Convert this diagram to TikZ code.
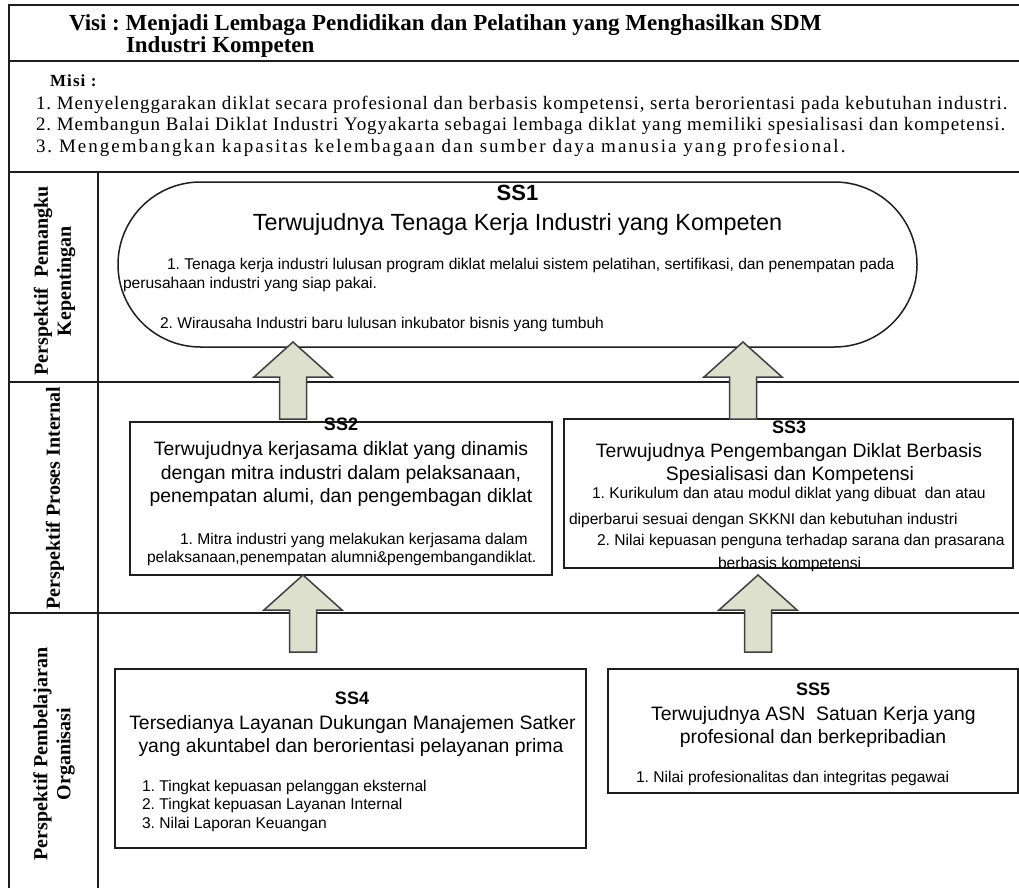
\documentclass[tikz,border=0pt]{standalone}
\usepackage{fontspec}
\setmainfont{Liberation Serif}
\newfontfamily\arial{Liberation Sans}
\newfontfamily\misifont{Liberation Serif}
\usetikzlibrary{calc}
\newcommand\myfs[1]{\fontsize{#1}{#1}\selectfont}
\definecolor{arrowfill}{RGB}{220,224,204}
\definecolor{linecol}{RGB}{30,30,30}
\newcommand\blockup[1]{%
  \draw[barrow] (#1) -- ++(39,35) -- ++(-25.5,0) -- ++(0,42) -- ++(-27,0)
    -- ++(0,-42) -- ++(-25.5,0) -- cycle;}
\frenchspacing
\begin{document}
\begin{tikzpicture}[x=1pt,y=-1pt,
  frame/.style={line width=1.8pt, draw=linecol},
  box/.style={draw=linecol, line width=1.5pt, inner sep=0pt, outer sep=0pt},
  t/.style={inner sep=0pt, outer sep=0pt},
  tt/.style={t, font=\arial\myfs{19.4}},
  it/.style={t, font=\arial\myfs{15.6}},
  hd/.style={t, font=\arial\bfseries\myfs{18}},
  lab/.style={t, rotate=90, align=center, font=\bfseries\fontsize{20}{23}\selectfont},
  barrow/.style={draw=linecol!85, line width=1.5pt, fill=arrowfill, line join=miter}]
\useasboundingbox (0,0) rectangle (1019,888);
\fill[white] (0,0) rectangle (1019,888);

% frame
\draw[frame] (1019,5) -- (9,5) -- (9,888);
\draw[frame] (9,61) -- (1019,61);
\draw[frame] (9,172) -- (1019,172);
\draw[frame] (9,382) -- (1019,382);
\draw[frame] (9,613) -- (1019,613);
\draw[frame] (98,172) -- (98,888);

% visi / misi
\node[t, anchor=base west, font=\bfseries\myfs{23}] (visi1) at (69,31)
  {Visi : Menjadi Lembaga Pendidikan dan Pelatihan yang Menghasilkan SDM};
\node[t, anchor=base west, font=\bfseries\myfs{23}] (visi2) at (126,53)
  {Industri Kompeten};
\node[t, anchor=base west, font=\misifont\addfontfeature{LetterSpace=6.6}\bfseries\myfs{17}] (misi) at (50,87) {Misi :};
\node[t, anchor=base west, font=\misifont\addfontfeature{LetterSpace=4.85}\myfs{19}] (m1) at (36,109.5)
  {1. Menyelenggarakan diklat secara profesional dan berbasis kompetensi, serta berorientasi pada kebutuhan industri.};
\node[t, anchor=base west, font=\misifont\addfontfeature{LetterSpace=4.8}\myfs{19}] (m2) at (36,131)
  {2. Membangun Balai Diklat Industri Yogyakarta sebagai lembaga diklat yang memiliki spesialisasi dan kompetensi.};
\node[t, anchor=base west, font=\misifont\addfontfeature{LetterSpace=10.6}\myfs{19}] (m3) at (36,152.5)
  {3. Mengembangkan kapasitas kelembagaan dan sumber daya manusia yang profesional.};

% row labels
\node[lab] (l1) at (54.5,281) {Perspektif\ \ Pemangku\\Kepentingan};
\node[lab] (l2) at (55,498) {Perspektif Proses Internal};
\node[lab] (l3) at (54,754) {Perspektif Pembelajaran\\Organisasi};

% SS1
\node[box, rounded corners=82.5pt, minimum width=799pt, minimum height=165pt] (ss1) at (517.5,264.5) {};
\node[t, font=\arial\bfseries\myfs{22}] (ss1h) at (517.5,193) {SS1};
\node[t, anchor=base, font=\arial\myfs{23.4}] (ss1t) at (517.5,230) {Terwujudnya Tenaga Kerja Industri yang Kompeten};
\node[it, anchor=base west] (ss1a) at (167,269.5) {1. Tenaga kerja industri lulusan program diklat melalui sistem pelatihan, sertifikasi, dan penempatan pada};
\node[it, anchor=base west] (ss1b) at (123,288.6) {perusahaan industri yang siap pakai.};
\node[it, anchor=base west] (ss1c) at (160,328.6) {2. Wirausaha Industri baru lulusan inkubator bisnis yang tumbuh};

% SS2
\node[box, minimum width=422pt, minimum height=153pt] (ss2) at (341,498.5) {};
\node[hd] (ss2h) at (341,424) {SS2};
\node[tt, anchor=base] (ss2t1) at (341,455) {Terwujudnya kerjasama diklat yang dinamis};
\node[tt, anchor=base] (ss2t2) at (341,479) {dengan mitra industri dalam pelaksanaan,};
\node[tt, anchor=base] (ss2t3) at (341,502) {penempatan alumi, dan pengembagan diklat};
\node[it, anchor=base west] (ss2a) at (180,544.6) {1. Mitra industri yang melakukan kerjasama dalam};
\node[it, anchor=base west] (ss2b) at (147,562.6) {pelaksanaan,penempatan alumni\&pengembangandiklat.};

% SS3
\node[box, minimum width=449pt, minimum height=149pt] (ss3) at (788.5,493.5) {};
\node[hd] (ss3h) at (789,427) {SS3};
\node[tt, anchor=base] (ss3t1) at (789,457) {Terwujudnya Pengembangan Diklat Berbasis};
\node[tt, anchor=base] (ss3t2) at (790,480) {Spesialisasi dan Kompetensi};
\node[it, anchor=base west] (ss3a) at (592,498.6) {1. Kurikulum dan atau modul diklat yang dibuat\ \ dan atau};
\node[it, anchor=base west] (ss3b) at (569,524.6) {diperbarui sesuai dengan SKKNI dan kebutuhan industri};
\node[it, anchor=base west] (ss3c) at (597,545.6) {2. Nilai kepuasan penguna terhadap sarana dan prasarana};
\node[it, anchor=base west] (ss3d) at (718,568.6) {berbasis kompetensi};

% SS4
\node[box, minimum width=471pt, minimum height=179pt] (ss4) at (350.5,758.5) {};
\node[hd] (ss4h) at (352,698) {SS4};
\node[tt, anchor=base] (ss4t1) at (352.5,729) {Tersedianya Layanan Dukungan Manajemen Satker};
\node[tt, anchor=base] (ss4t2) at (351,752) {yang akuntabel dan berorientasi pelayanan prima};
\node[it, anchor=base west] (ss4a) at (142,791) {1. Tingkat kepuasan pelanggan eksternal};
\node[it, anchor=base west] (ss4b) at (142,809) {2. Tingkat kepuasan Layanan Internal};
\node[it, anchor=base west] (ss4c) at (142,828) {3. Nilai Laporan Keuangan};

% SS5
\node[box, minimum width=410pt, minimum height=124pt] (ss5) at (813,731) {};
\node[hd] (ss5h) at (813,689) {SS5};
\node[tt, anchor=base] (ss5t1) at (813.5,720) {Terwujudnya ASN\ \ Satuan Kerja yang};
\node[tt, anchor=base] (ss5t2) at (813,743) {profesional dan berkepribadian};
\node[it, anchor=base west] (ss5a) at (636,782.6) {1. Nilai profesionalitas dan integritas pegawai};

% block arrows (tips)
\coordinate (a1) at (293,342);
\coordinate (a2) at (743,342);
\coordinate (a3) at (303,575);
\coordinate (a4) at (758,575);
\blockup{a1}
\blockup{a2}
\blockup{a3}
\blockup{a4}
\end{tikzpicture}
\end{document}
